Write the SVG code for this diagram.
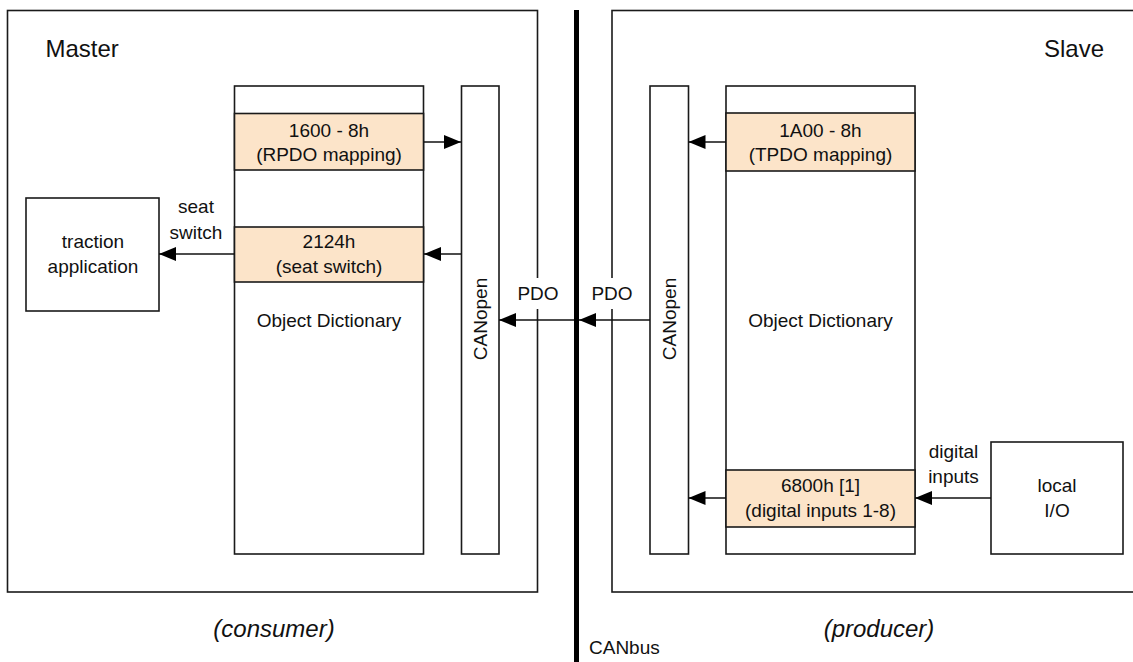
<svg xmlns="http://www.w3.org/2000/svg" width="1133" height="662" viewBox="0 0 1133 662">
<defs>
<style>
.box{fill:#fff;stroke:#1a1a1a;stroke-width:1.6}
.slot{fill:#FCE4C9;stroke:#1a1a1a;stroke-width:1.6}
.t{font-family:"Liberation Sans",Arial,sans-serif;font-size:19px;fill:#111;text-anchor:middle}
.big{font-size:24px}
.it{font-style:italic;font-size:24px}
.ln{stroke:#111;stroke-width:1.6;fill:none;marker-end:url(#ah)}
.bg{fill:#fff;stroke:none}
</style>
<marker id="ah" markerUnits="userSpaceOnUse" markerWidth="18" markerHeight="14" refX="17" refY="7" orient="auto"><path d="M0,0 L17,7 L0,14 z" fill="#000"/></marker>
</defs>
<rect width="1133" height="662" fill="#fff"/>
<g id="master">
<rect class="box" x="7.5" y="10.5" width="530" height="581.5"/>
<text class="t big" x="45.5" y="57" style="text-anchor:start">Master</text>
<text class="t it" x="274" y="637">(consumer)</text>
</g>
<g id="slave">
<rect class="box" x="612" y="10.5" width="530" height="581.5"/>
<text class="t big" x="1104" y="57" style="text-anchor:end">Slave</text>
<text class="t it" x="879" y="637">(producer)</text>
</g>
<g id="master-od">
<rect class="box" x="234.5" y="86" width="189" height="468"/>
<text class="t" x="329" y="327">Object Dictionary</text>
</g>
<g id="rpdo-mapping">
<rect class="slot" x="234.5" y="113.5" width="189" height="56.5"/>
<text class="t" x="329" y="137">1600 - 8h</text>
<text class="t" x="329" y="161">(RPDO mapping)</text>
</g>
<g id="seat-switch-obj">
<rect class="slot" x="234.5" y="227" width="189" height="55"/>
<text class="t" x="329" y="248">2124h</text>
<text class="t" x="329" y="273">(seat switch)</text>
</g>
<g id="master-canopen">
<rect class="box" x="461.5" y="86" width="37.5" height="468"/>
<text class="t" transform="translate(487,319) rotate(-90)">CANopen</text>
</g>
<g id="traction">
<rect class="box" x="26" y="198" width="133" height="113"/>
<text class="t" x="93" y="248">traction</text>
<text class="t" x="93" y="273">application</text>
</g>
<g id="slave-canopen">
<rect class="box" x="650" y="86" width="38.5" height="468"/>
<text class="t" transform="translate(676,319) rotate(-90)">CANopen</text>
</g>
<g id="slave-od">
<rect class="box" x="726" y="86" width="189" height="468"/>
<text class="t" x="820.5" y="327">Object Dictionary</text>
</g>
<g id="tpdo-mapping">
<rect class="slot" x="726" y="113" width="189" height="58"/>
<text class="t" x="820.5" y="137">1A00 - 8h</text>
<text class="t" x="820.5" y="161">(TPDO mapping)</text>
</g>
<g id="digital-inputs-obj">
<rect class="slot" x="726" y="470" width="189" height="57"/>
<text class="t" x="820.5" y="492">6800h [1]</text>
<text class="t" x="820.5" y="517">(digital inputs 1-8)</text>
</g>
<g id="local-io">
<rect class="box" x="991" y="442" width="132" height="112"/>
<text class="t" x="1057" y="492">local</text>
<text class="t" x="1057" y="517">I/O</text>
</g>
<g id="canbus">
<line x1="576.5" y1="10" x2="576.5" y2="662" stroke="#000" stroke-width="5"/>
<text class="t" x="589" y="654" style="text-anchor:start">CANbus</text>
</g>
<g id="connectors">
<path class="ln" d="M424,142 H461"/>
<path class="ln" d="M461,254 H424"/>
<path class="ln" d="M234.5,254 H159"/>
<path class="ln" d="M574,320 H499"/>
<path class="ln" d="M650,320 H579"/>
<path class="ln" d="M726,142 H688.5"/>
<path class="ln" d="M726,498 H688.5"/>
<path class="ln" d="M991,498 H915"/>
</g>
<g id="labels">
<text class="t" x="196" y="213">seat</text>
<text class="t" x="196" y="239">switch</text>
<rect class="bg" x="519" y="278" width="38" height="31"/>
<text class="t" x="538" y="300">PDO</text>
<rect class="bg" x="593" y="278" width="38" height="31"/>
<text class="t" x="612" y="300">PDO</text>
<text class="t" x="953.5" y="458">digital</text>
<text class="t" x="953.5" y="483">inputs</text>
</g>
</svg>
